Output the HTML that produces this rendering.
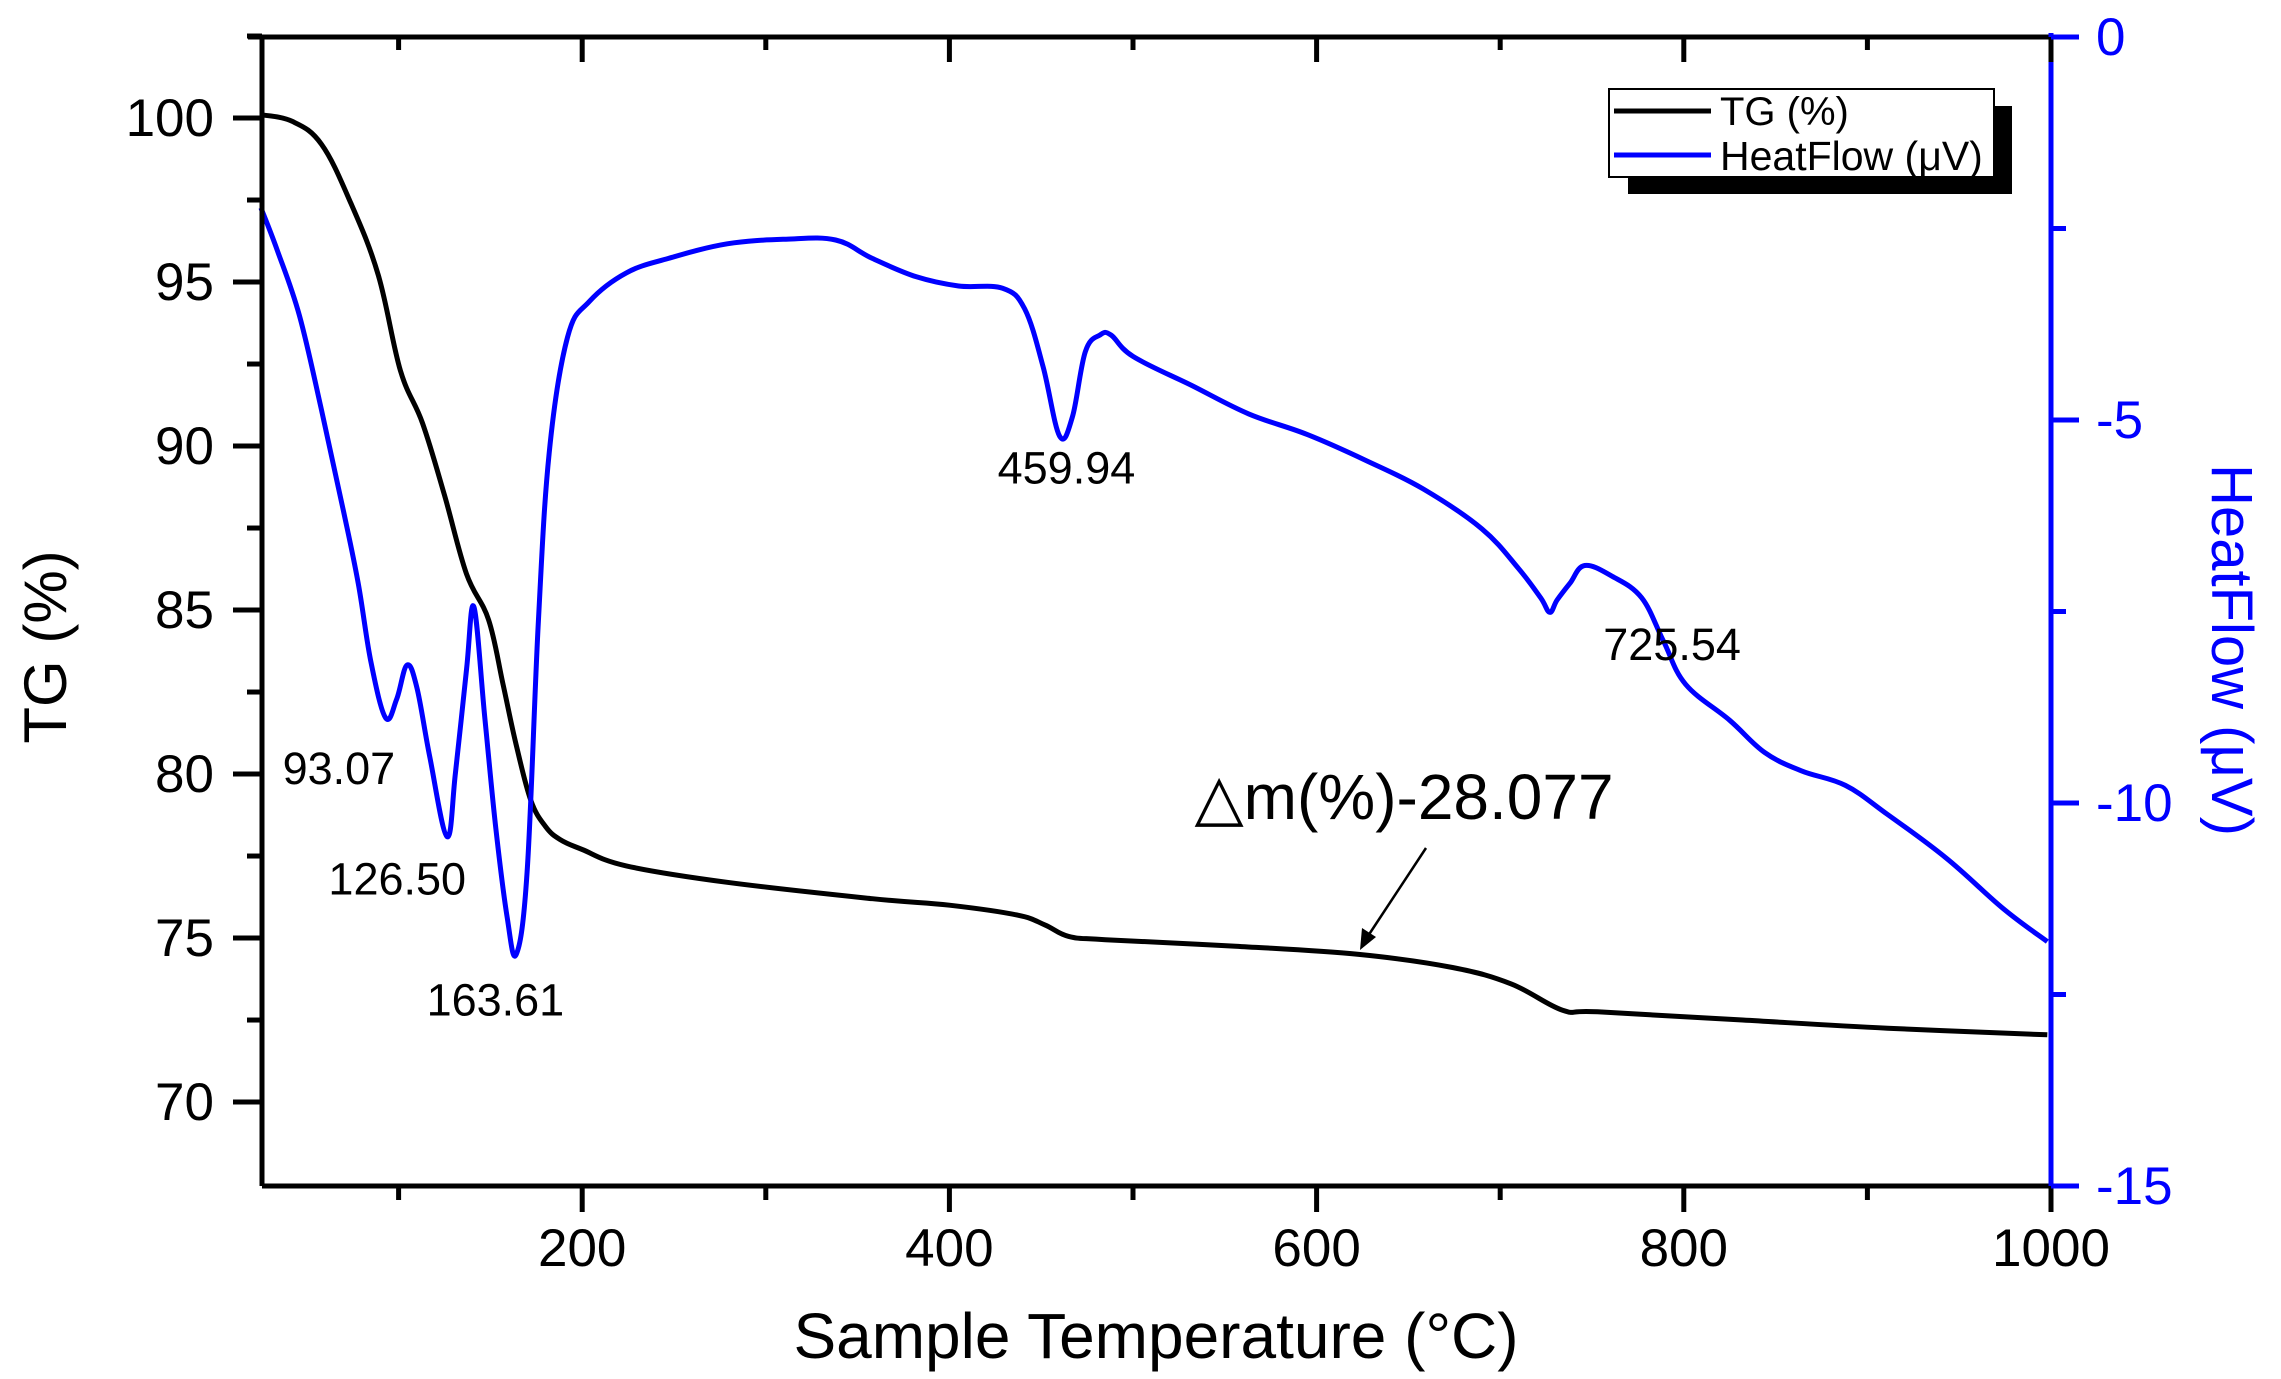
<!DOCTYPE html>
<html><head><meta charset="utf-8"><style>
html,body{margin:0;padding:0;background:#fff;}
svg{display:block;font-family:"Liberation Sans",Arial,sans-serif;}
</style></head><body>
<svg id="chart" width="2281" height="1379" viewBox="0 0 2281 1379" xmlns="http://www.w3.org/2000/svg"></svg>
<script>
const tgTemps=[25,42,58,74,89,101,113,125,137,149,157,164,172,180,188,200,224,279,358,400,437,452,465,485,556,623,674,706,734,753,832,911,998];
const tgValues=[100.1,99.9,99.2,97.4,95.2,92.3,90.7,88.5,86.1,84.7,82.7,80.9,79.2,78.4,78.0,77.7,77.2,76.7,76.2,76.0,75.7,75.4,75.05,74.95,74.75,74.5,74.1,73.6,72.8,72.75,72.5,72.25,72.05];
const hfTemps=[25,34,46,58,70,78,85,93,99,104.6,110,117,126.4,131,137,141,147,153,159,164,170,176,182,192,204,224,247,279,311,338,358,382,405,429,441,451,460,467,474,482,488,500,532,563,595,627,658,690,710,722,727,731,738,746,761,777,789,801,825,844,864,888,911,943,974,998];
const hfValues=[-2.23,-2.79,-3.64,-4.87,-6.19,-7.13,-8.17,-8.89,-8.64,-8.2,-8.5,-9.4,-10.44,-9.6,-8.26,-7.44,-8.9,-10.34,-11.47,-11.98,-10.9,-7.7,-5.43,-3.92,-3.45,-3.08,-2.89,-2.7,-2.64,-2.65,-2.89,-3.13,-3.25,-3.28,-3.55,-4.3,-5.21,-4.96,-4.11,-3.89,-3.89,-4.17,-4.55,-4.92,-5.19,-5.53,-5.9,-6.42,-6.94,-7.32,-7.51,-7.35,-7.13,-6.9,-7.04,-7.32,-7.89,-8.45,-8.92,-9.34,-9.58,-9.77,-10.15,-10.72,-11.38,-11.81];
const xTicks=[200,400,600,800,1000];
const yLeftTicks=[70,75,80,85,90,95,100];
const yRightTicks=[0,-5,-10,-15];
const peakTemps=[93.07,126.50,163.61,459.94,725.54];
const peakLabels=["93.07","126.50","163.61","459.94","725.54"];

const L=262,R=2051,T=37,B=1186;
const xMin=25.6,xMax=1000,lMin=67.44,lMax=102.47,rMin=-15,rMax=0;
const X=v=>L+(v-xMin)/(xMax-xMin)*(R-L);
const YL=v=>B-(v-lMin)/(lMax-lMin)*(B-T);
const YR=v=>B-(v-rMin)/(rMax-rMin)*(B-T);
const NS="http://www.w3.org/2000/svg";
const svg=document.getElementById('chart');
function mk(tag,attrs,text){const e=document.createElementNS(NS,tag);for(const k in attrs)e.setAttribute(k,attrs[k]);if(text!==undefined)e.textContent=text;svg.appendChild(e);return e;}
function interp(ts,vs,t){for(let i=0;i<ts.length-1;i++){if(t>=ts[i]&&t<=ts[i+1]){return vs[i]+(vs[i+1]-vs[i])*(t-ts[i])/(ts[i+1]-ts[i]);}}return vs[vs.length-1];}
function smooth(pts){
 let d='M'+pts[0][0].toFixed(1)+' '+pts[0][1].toFixed(1);
 for(let i=0;i<pts.length-1;i++){
  const p0=pts[Math.max(0,i-1)],p1=pts[i],p2=pts[i+1],p3=pts[Math.min(pts.length-1,i+2)];
  const t=0.18;
  const c1=[p1[0]+(p2[0]-p0[0])*t,p1[1]+(p2[1]-p0[1])*t];
  const c2=[p2[0]-(p3[0]-p1[0])*t,p2[1]-(p3[1]-p1[1])*t];
  d+='C'+c1[0].toFixed(1)+' '+c1[1].toFixed(1)+' '+c2[0].toFixed(1)+' '+c2[1].toFixed(1)+' '+p2[0].toFixed(1)+' '+p2[1].toFixed(1);
 }
 return d;
}

// series
let p=mk('path',{d:smooth(tgTemps.map((t,i)=>[X(t),YL(tgValues[i])])),fill:'none',stroke:'#000','stroke-width':5,'stroke-linejoin':'round'});


p=mk('path',{d:smooth(hfTemps.map((t,i)=>[X(t),YR(hfValues[i])])),fill:'none',stroke:'#0000ff','stroke-width':5,'stroke-linejoin':'round'});



// axes frame
let e=mk('line',{x1:L,y1:T,x2:L,y2:B,stroke:'#000','stroke-width':5});

e=mk('line',{x1:L-14,y1:T,x2:R,y2:T,stroke:'#000','stroke-width':5});

e=mk('line',{x1:L,y1:B,x2:R,y2:B,stroke:'#000','stroke-width':5});

e=mk('line',{x1:R,y1:T-4,x2:R,y2:B,stroke:'#0000ff','stroke-width':5});


// x ticks
xTicks.forEach(v=>{
 e=mk('line',{x1:X(v),y1:B,x2:X(v),y2:B+26,stroke:'#000','stroke-width':5});
 
 e=mk('line',{x1:X(v-100),y1:B,x2:X(v-100),y2:B+14,stroke:'#000','stroke-width':5});
 
 e=mk('line',{x1:X(v),y1:T,x2:X(v),y2:T+25,stroke:'#000','stroke-width':5});
 
 e=mk('line',{x1:X(v-100),y1:T,x2:X(v-100),y2:T+13,stroke:'#000','stroke-width':5});
 
 e=mk('text',{x:X(v),y:B+80,'font-size':53,'text-anchor':'middle',fill:'#000'},String(v));
 
});
// left ticks
yLeftTicks.forEach(v=>{
 e=mk('line',{x1:L-29,y1:YL(v),x2:L,y2:YL(v),stroke:'#000','stroke-width':5});
 
 e=mk('line',{x1:L-15,y1:YL(v+2.5),x2:L,y2:YL(v+2.5),stroke:'#000','stroke-width':5});
 
 e=mk('text',{x:L-48,y:YL(v)+18,'font-size':53,'text-anchor':'end',fill:'#000'},String(v));
 
});
// right ticks
yRightTicks.forEach(v=>{
 e=mk('line',{x1:R,y1:YR(v),x2:R+28,y2:YR(v),stroke:'#0000ff','stroke-width':5});
 
 if(v>-15){e=mk('line',{x1:R,y1:YR(v-2.5),x2:R+15,y2:YR(v-2.5),stroke:'#0000ff','stroke-width':5});
 }
 e=mk('text',{x:R+45,y:YR(v)+18,'font-size':53,'text-anchor':'start',fill:'#0000ff'},v===0?'0':'-'+Math.abs(v));
 
});

// axis titles
e=mk('text',{x:1156,y:1358,'font-size':64,'text-anchor':'middle',fill:'#000'},'Sample Temperature (°C)');

e=mk('text',{x:0,y:0,'font-size':60,'text-anchor':'middle',fill:'#000',transform:'translate(66,647) rotate(-90)'},'TG (%)');

e=mk('text',{x:0,y:0,'font-size':58,'text-anchor':'middle',fill:'#0000ff',transform:'translate(2212,650) rotate(90)'},'HeatFlow (μV)');


// peak labels
const labelOffsets=[[-47,50],[-50,43],[-20,48],[7,32],[125,36]];
peakTemps.forEach((t,i)=>{
 const v=interp(hfTemps,hfValues,t);
 e=mk('text',{x:X(t)+labelOffsets[i][0],y:YR(v)+labelOffsets[i][1]+16,'font-size':45,'text-anchor':'middle',fill:'#000'},peakLabels[i]);
 
});

// mass loss annotation
e=mk('text',{x:1404,y:819,'font-size':64,'text-anchor':'middle',fill:'#000'},'△m(%)-28.077');

e=mk('line',{x1:1426,y1:848,x2:1368,y2:936,stroke:'#000','stroke-width':2.5});

e=mk('polygon',{points:'1360,950 1362,928 1376,937',fill:'#000'});


// legend
e=mk('rect',{x:1628,y:106,width:384,height:88,fill:'#000'});

e=mk('rect',{x:1609,y:89,width:385,height:88,fill:'#fff',stroke:'#000','stroke-width':2});

e=mk('line',{x1:1614,y1:111,x2:1711,y2:111,stroke:'#000','stroke-width':5});

e=mk('text',{x:1720,y:125,'font-size':40,fill:'#000'},'TG (%)');

e=mk('line',{x1:1614,y1:155,x2:1711,y2:155,stroke:'#0000ff','stroke-width':5});

e=mk('text',{x:1720,y:170,'font-size':41,fill:'#000'},'HeatFlow (μV)');

</script>
</body></html>
